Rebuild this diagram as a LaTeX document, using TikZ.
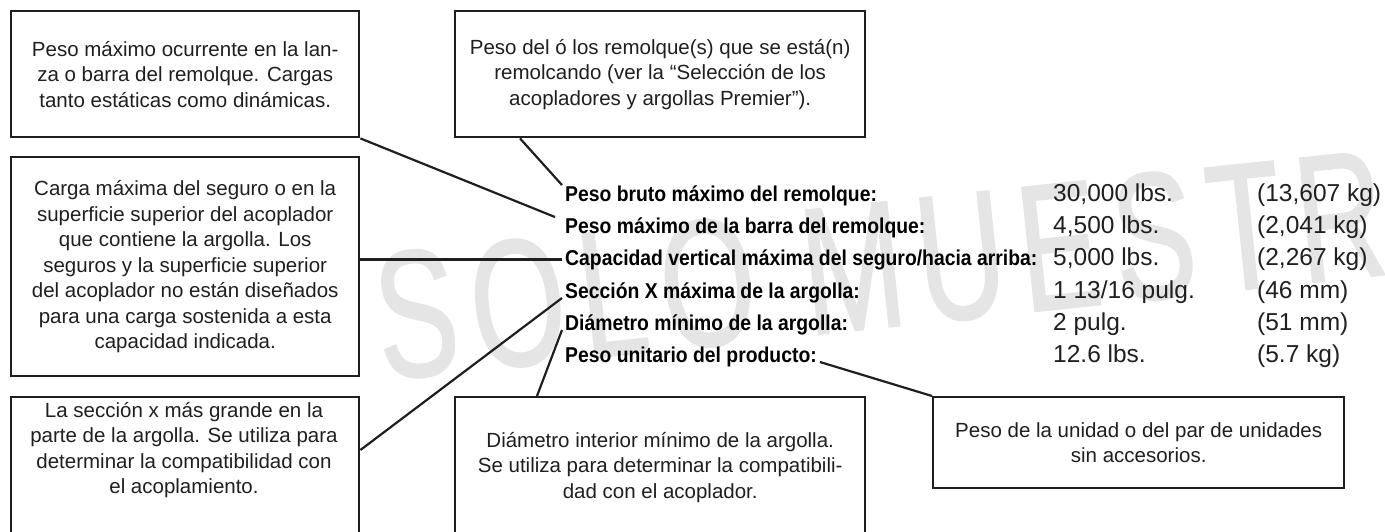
\documentclass[tikz,border=0pt]{standalone}
\usepackage{fontspec}
\setmainfont{Liberation Sans}
\newfontfamily\wmfont[FakeStretch=0.67,LetterSpace=8,FakeBold=1]{Liberation Sans}
\newfontfamily\lblfont[FakeStretch=0.9]{Liberation Sans}
\usetikzlibrary{positioning}
\tikzset{
  box/.style={draw=black!88, line width=2.4pt, inner sep=0pt, anchor=north west},
  note/.style={align=center, text=black!88, font=\fontsize{20.5}{25.5}\selectfont},
  lbl/.style={anchor=base west, inner xsep=3pt, inner ysep=0pt, font=\lblfont\fontsize{21.5}{24}\selectfont\bfseries},
  val/.style={anchor=base west, inner sep=0pt, text=black!88, font=\fontsize{24.5}{26}\selectfont},
  wm/.style={text=black!10, rotate=6, inner sep=0pt, font=\wmfont\fontsize{181}{190}\selectfont}
}
\begin{document}
\begin{tikzpicture}[x=1pt,y=-1pt]
      \useasboundingbox (0,0) rectangle (1385,531);
      \clip (0,0) rectangle (1385,531);
      \node[wm, anchor=west] (wm) at (376,318) {SOLO MUESTRA};
      % boxes
      \node[box, note, minimum width=348pt, minimum height=126pt] (tongue) at (10,10)
        {Peso máximo ocurrente en la lan-\\za o barra del remolque. Cargas\\tanto estáticas como dinámicas.};
      \node[box, note, minimum width=410pt, minimum height=126pt] (gross) at (454,10)
        {Peso del ó los remolque(s) que se está(n)\\remolcando (ver la “Selección de los\\acopladores y argollas Premier”).};
      \node[box, note, minimum width=348pt, minimum height=219pt] (load) at (10,156)
        {Carga máxima del seguro o en la\\superficie superior del acoplador\\que contiene la argolla. Los\\seguros y la superficie superior\\del acoplador no están diseñados\\para una carga sostenida a esta\\capacidad indicada.};
      \node[box, minimum width=348pt, minimum height=170pt] (xsec) at (10,396) {};
      \node[note] (xsectext) at (184,450)
        {La sección x más grande en la\\parte de la argolla. Se utiliza para\\determinar la compatibilidad con\\el acoplamiento.};
      \node[box, note, minimum width=410pt, minimum height=140pt] (diam) at (454,396)
        {Diámetro interior mínimo de la argolla.\\Se utiliza para determinar la compatibili-\\dad con el acoplador.};
      \node[box, note, minimum width=411pt, minimum height=91pt] (unit) at (932,396)
        {Peso de la unidad o del par de unidades\\sin accesorios.};
      % table
      \draw
        (562,201) node[lbl] (gw){Peso bruto máximo del remolque:}
        (562,233) node[lbl] (tw){Peso máximo de la barra del remolque:}
        (562,265) node[lbl] (vc){Capacidad vertical máxima del seguro/hacia arriba:}
        (562,298) node[lbl] (xs){Sección X máxima de la argolla:}
        (562,330) node[lbl] (md){Diámetro mínimo de la argolla:}
        (562,362) node[lbl] (pw){Peso unitario del producto:};
      \draw
        (1053,201) node[val] (gw1){30,000 lbs.}
        (1053,233) node[val] (tw1){4,500 lbs.}
        (1053,265) node[val] (vc1){5,000 lbs.}
        (1053,298) node[val] (xs1){1 13/16 pulg.}
        (1053,330) node[val] (md1){2 pulg.}
        (1053,362) node[val] (pw1){12.6 lbs.}
        (1257,201) node[val] (gw2){(13,607 kg)}
        (1257,233) node[val] (tw2){(2,041 kg)}
        (1257,265) node[val] (vc2){(2,267 kg)}
        (1257,298) node[val] (xs2){(46 mm)}
        (1257,330) node[val] (md2){(51 mm)}
        (1257,362) node[val] (pw2){(5.7 kg)};
      \begin{scope}[draw=black!88, line width=2.2pt]
        \draw ([xshift=66pt]gross.south west) to (gw.north west);
        \draw (tongue.south east) to ([xshift=-7pt]tw.north west);
        \draw (load.east |- vc.west) to (vc.west);
        \draw (xsec.east |- xsectext.center) to (xs.base west);
        \draw ([xshift=83pt]diam.north west) to (md.base west);
        \draw (pw.base east) to (unit.north west);
      \end{scope}
    \end{tikzpicture}
\end{document}
